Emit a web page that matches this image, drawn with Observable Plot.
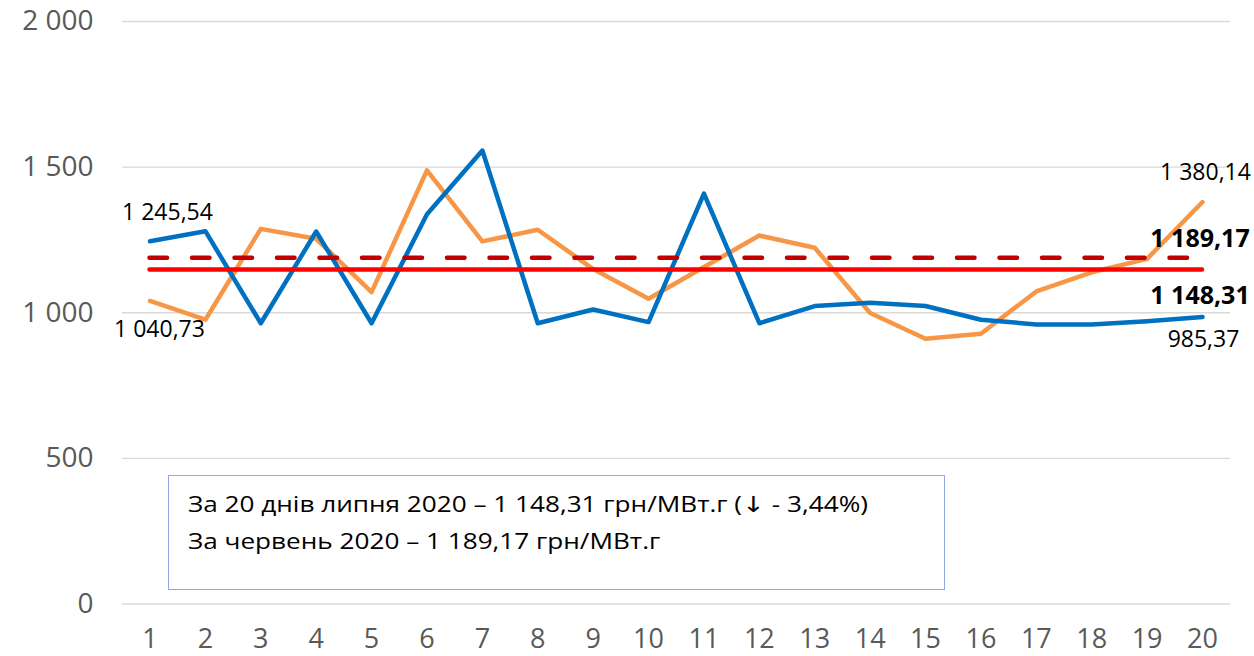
<!DOCTYPE html>
<html><head><meta charset="utf-8">
<script src="https://cdn.jsdelivr.net/npm/d3@7"></script>
<script src="https://cdn.jsdelivr.net/npm/@observablehq/plot@0.6"></script>
<style>
html,body{margin:0;padding:0;background:#fff;}
#wrap{position:relative;width:1254px;height:656px;}
#note{position:absolute;left:168px;top:475px;width:777px;height:115px;border:1.5px solid #8EA9DB;box-sizing:border-box;background:#fff;}
#noteText{position:absolute;left:19px;top:10px;transform-origin:0 0;white-space:nowrap;
font-family:"Liberation Sans Narrow","Open Sans",sans-serif;font-size:21px;line-height:36px;color:#000;}
.arr{font-family:"DejaVu Sans",sans-serif;font-size:22px;}
</style></head>
<body><div id="wrap"><div id="note"><div id="noteText"></div></div></div>
<script>
const days = d3.range(1, 21);
const july = [1245.54,1280,964,1279,964,1338,1557,964,1011,968,1409,964,1023,1034,1023,976,960,960,971,985.37];
const june = [1040.73,976,1288,1254,1071,1489,1245,1285,1150,1048,1157,1265,1223,999,911,928,1073,1139,1185,1380.14];
const avgJuly = 1148.31;
const avgJune = 1189.17;
const yTicks = [0,500,1000,1500,2000];
const noteLines = ["За 20 днів липня 2020 – 1 148,31 грн/МВт.г (↓ - 3,44%)", "За червень 2020 – 1 189,17 грн/МВт.г"];

const fmtAxis = v => d3.format(",")(v).replace(/,/g, " ");
const fmtLabel = v => d3.format(",.2f")(v).replace(/,/g, " ").replace(".", ",");

const seriesJuly = days.map((d,i)=>({day:d, v:july[i]}));
const seriesJune = days.map((d,i)=>({day:d, v:june[i]}));
const lblFont = "'Open Sans', sans-serif";

const labels = [
  {day:1, v:july[0], dx:17.5, dy:-29, bold:false},
  {day:1, v:june[0], dx:9.5, dy:29, bold:false},
  {day:20, v:june[19], dx:3, dy:-29, bold:false},
  {day:20, v:july[19], dx:1, dy:23, bold:false},
  {day:20, v:avgJune, dx:-2.5, dy:-19, bold:true},
  {day:20, v:avgJuly, dx:-2.5, dy:26, bold:true}
];
const labelMarks = labels.map(l => Plot.text([l], {
  x:"day", y:"v", text:d=>fmtLabel(d.v), dx:l.dx, dy:l.dy,
  fontSize:l.bold ? 25 : 23, fontWeight:l.bold ? "bold" : "normal",
  fill:"#000", fontFamily:lblFont
}));

const chart = Plot.plot({
  width:1254, height:656,
  marginLeft:122, marginRight:24, marginTop:21, marginBottom:52.5,
  style:{fontFamily:"'Open Sans', sans-serif", background:"transparent", overflow:"visible"},
  x:{type:"linear", domain:[1,20], range:[149.5,1202], label:null},
  y:{domain:[0,2000], label:null},
  marks:[
    Plot.ruleY(yTicks, {stroke:"#D9D9D9", strokeWidth:1.3}),
    Plot.line(seriesJune, {x:"day", y:"v", stroke:"#F79646", strokeWidth:4.5, strokeLinejoin:"round", strokeLinecap:"round"}),
    Plot.line(seriesJuly, {x:"day", y:"v", stroke:"#0070C0", strokeWidth:4.5, strokeLinejoin:"round", strokeLinecap:"round"}),
    Plot.ruleY([avgJune], {x1:1, x2:19.8, stroke:"#C00000", strokeWidth:4.5, strokeDasharray:"17.5,25", strokeLinecap:"round"}),
    Plot.ruleY([avgJuly], {x1:1, x2:20, stroke:"#FF0000", strokeWidth:4.5, strokeLinecap:"round"}),
    ...labelMarks,
    Plot.axisX({ticks:days, tickSize:0, tickPadding:25, fontSize:27, fill:"#595959", tickFormat:d=>String(d), label:null}),
    Plot.axisY({ticks:yTicks, tickSize:0, tickPadding:29, fontSize:28, fill:"#595959", tickFormat:fmtAxis, label:null})
  ]
});
const wrap = document.getElementById("wrap");
wrap.insertBefore(chart, wrap.firstChild);
chart.style.position="absolute"; chart.style.left="0"; chart.style.top="0";
const nt = document.getElementById("noteText");
nt.innerHTML = noteLines.map(s=>`<div>${s.replace("↓", '<span class="arr">↓</span>')}</div>`).join("");
const first = nt.firstChild;
const r = document.createRange(); r.selectNodeContents(first);
const w = r.getBoundingClientRect().width;
if (w > 0) nt.style.transform = `scaleX(${680 / w})`;
</script>
</body></html>
